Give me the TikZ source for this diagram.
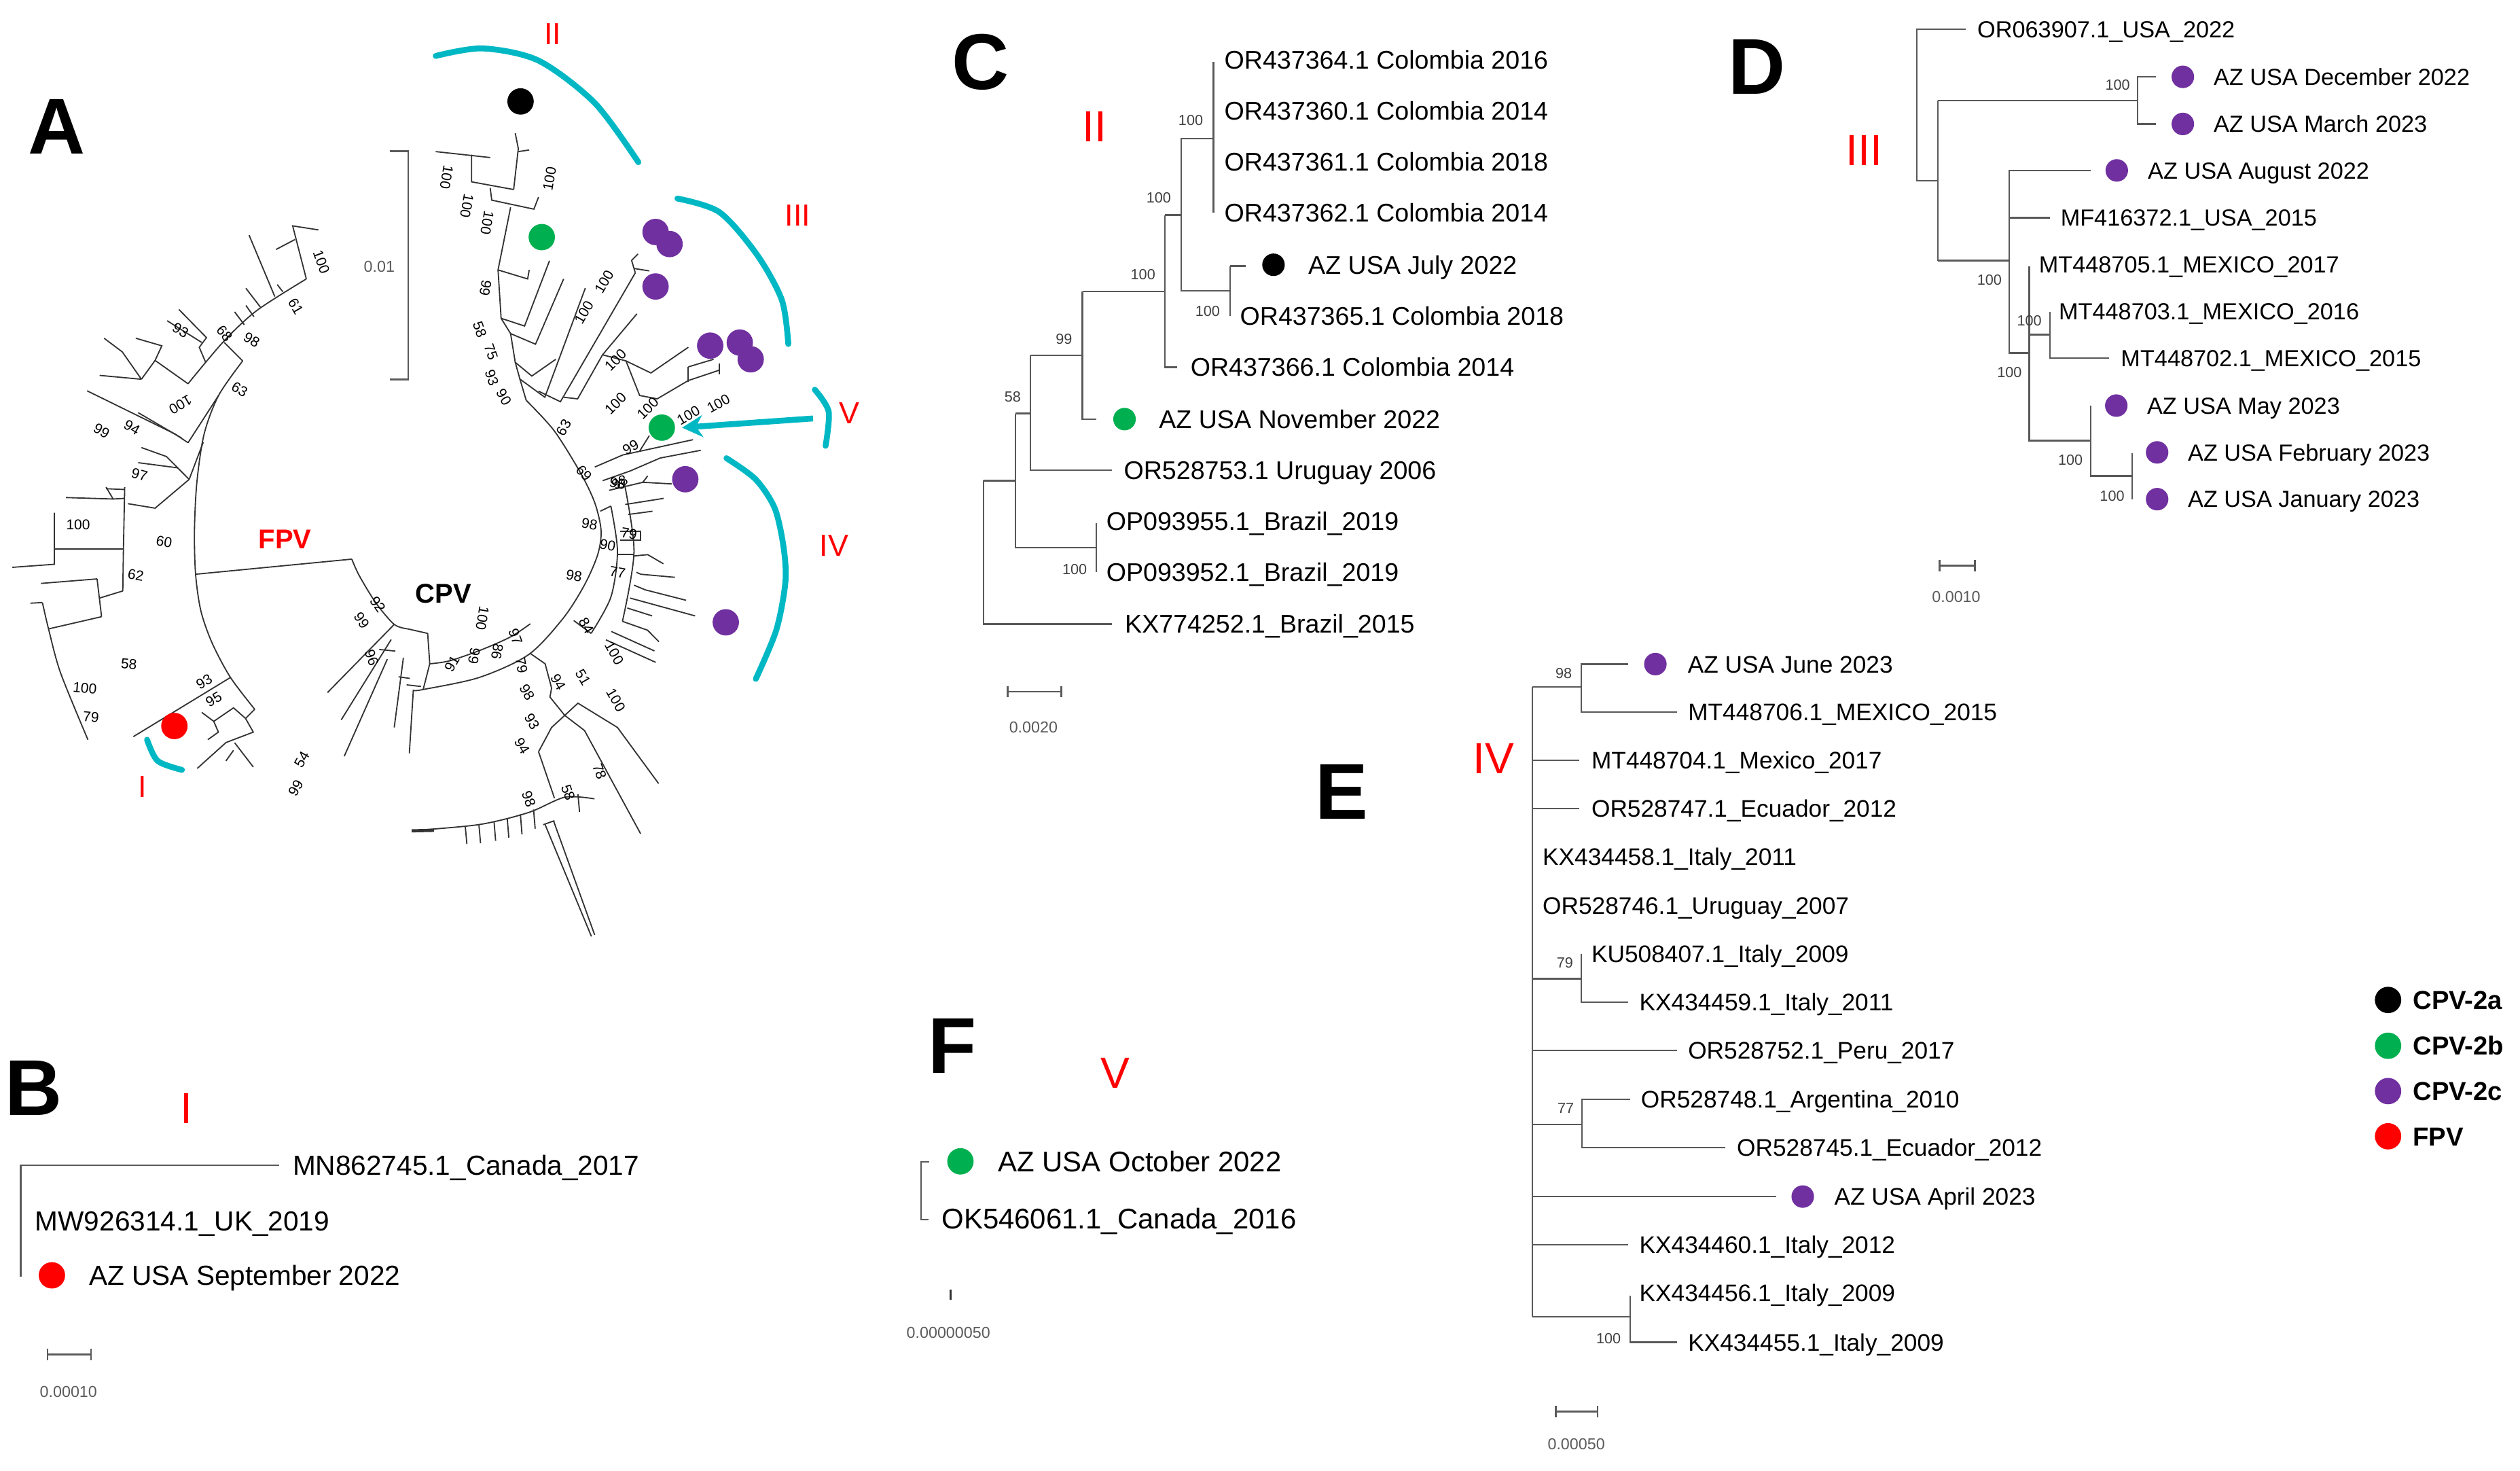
\documentclass[tikz,border=0pt]{standalone}
\usepackage{fontspec}
\setmainfont{Liberation Sans}
\usetikzlibrary{arrows.meta}

\definecolor{cpvb}{RGB}{0,176,80}
\definecolor{cpvc}{RGB}{112,48,160}
\definecolor{fpvred}{RGB}{255,0,0}
\definecolor{cladecyan}{RGB}{0,184,196}
\definecolor{scalegray}{RGB}{90,90,90}

\tikzset{
  br/.style={line width=0.55pt, black!80},
  brC/.style={line width=0.7pt, black!65},
  cladearc/.style={line width=2.6pt, cladecyan, line cap=round},
  dotS/.style={circle, inner sep=0pt, minimum size=0.35cm},
  dotL/.style={circle, inner sep=0pt, minimum size=0.41cm},
  panel/.style={inner sep=0pt, text height=25pt, text depth=0pt, font=\fontsize{35}{36}\selectfont\bfseries},
  cladenum/.style={inner sep=0pt, text height=13.8pt, text depth=0pt, text=red, font=\fontsize{19.3}{20}\selectfont},
  cladenumA/.style={inner sep=0pt, text height=9.7pt, text depth=0pt, text=red, font=\fontsize{13.5}{14}\selectfont},
  virus/.style={inner sep=0pt, text height=8.6pt, text depth=0pt, font=\fontsize{12}{13}\selectfont\bfseries},
  leafC/.style={anchor=west, inner sep=0pt, text height=8pt, text depth=0pt, font=\fontsize{11.3}{12}\selectfont},
  leafD/.style={anchor=west, inner sep=0pt, text height=7.4pt, text depth=0pt, font=\fontsize{10.3}{11}\selectfont},
  leafE/.style={anchor=west, inner sep=0pt, text height=7.6pt, text depth=0pt, font=\fontsize{10.6}{11}\selectfont},
  leafB/.style={anchor=west, inner sep=0pt, text height=8.7pt, text depth=0pt, font=\fontsize{12.2}{13}\selectfont},
  leafF/.style={anchor=west, inner sep=0pt, text height=9pt, text depth=0pt, font=\fontsize{12.6}{13}\selectfont},
  boot/.style={inner sep=0pt, text=black!75, font=\fontsize{6.5}{7}\selectfont},
  bootA/.style={inner sep=0pt, font=\fontsize{6.3}{7}\selectfont},
  scalebar/.style={line width=0.8pt, scalegray},
  scalelab/.style={inner sep=0pt, text=scalegray, font=\fontsize{7}{8}\selectfont},
  keytext/.style={anchor=west, inner sep=0pt, text height=8.2pt, text depth=0pt, font=\fontsize{11.5}{12}\selectfont\bfseries}
}

\begin{document}
\begin{tikzpicture}[x=0.025cm, y=-0.025cm]
\useasboundingbox (0,0) rectangle (1568,915);

% ---------------- panel A: circular tree ----------------
\node[panel] (labA) at (35.4,78.3) {A};

% scale bar
\draw[scalebar] (242.6,94) -- (254,94) -- (254,236) -- (242.6,236);
\node[scalelab] (scA) at (236,166) {0.01};

% FPV clade
\draw[br] plot[smooth] coordinates {(117,238.7) (139.5,212) (160,193) (190.6,173.5)};
\draw[br] (139.5,213) -- (151,224.5);
\draw[br] plot[smooth] coordinates {(151,224.5) (136,246) (127,270) (122.5,300) (121,330) (121.7,357.2) (125,380) (132,400) (143.4,421.4) (158.5,441.2)};
\draw[br] (152,202) -- (146,194);
\draw[br] (158,197) -- (153,190);
\draw[br] (162,191) -- (153,179.3);
\draw[br] (171,184.5) -- (155,146.3);
\draw[br] (176,181.5) -- (172.5,177);
\draw[br] (190.6,173.5) -- (182.1,140.5) -- (198.1,143);
\draw[br] (183.5,149) -- (171.7,155.2);
\draw[br] (128,225.5) -- (124,216) -- (128.5,210) -- (111.3,192.5);
\draw[br] (125.5,213) -- (104,199.5);
\draw[br] (117,238.7) -- (96.5,224.2);
\draw[br] (96.5,224.2) -- (100.7,215.1) -- (84.5,210.4);
\draw[br] (96.5,224.2) -- (88,235.9);
\draw[br] (88,235.9) -- (76.1,218.9) -- (64.8,210.4);
\draw[br] (88,235.9) -- (62,233.5);
\draw[br] (136,246) -- (117,275.4);
\draw[br] (117,275.4) -- (109,270) -- (54.2,243.1);
\draw[br] (113,272.5) -- (86,256.7);
\draw[br] (126.5,275) -- (117.7,298.2);
\draw[br] (117.7,298.2) -- (103.6,284) -- (88,278.4);
\draw[br] (110.5,291) -- (86,287.8);
\draw[br] (117.7,298.2) -- (96.5,316.1) -- (79.6,313.3);
\draw[br] (77.6,303) -- (76.8,341.6) -- (76.4,367.6);
\draw[br] (77.5,310) -- (70.4,310.4) -- (66,303);
\draw[br] (70.4,310.4) -- (41,309.5);
\draw[br] (77.6,304.5) -- (66,304);
\draw[br] (76.8,341.6) -- (33.8,341.6);
\draw[br] (33.8,318.9) -- (33.8,351) -- (7.7,352.9);
\draw[br] (76.4,367.6) -- (62,372);
\draw[br] (60.4,360.1) -- (63.2,383.6);
\draw[br] (60.4,360.1) -- (25.5,362.9);
\draw[br] (63.2,383.6) -- (30.2,391.2);
\draw[br] (18.9,375.2) -- (26.4,374.8);
\draw[br] plot[smooth] coordinates {(26.4,374.8) (30.2,391.2) (37.7,418.6) (54.7,460.1)};
\draw[br] (143.4,421.4) -- (83,458.2);
\draw[br] (158.5,441.2) -- (152.8,446.9) -- (145.3,440.3) -- (133,448.7) -- (125.5,443.1);
\draw[br] (133,448.7) -- (135.9,455.4) -- (129.3,460.1);
\draw[br] (152.8,446.9) -- (157.6,455.4) -- (140.6,461.9) -- (122.7,478);
\draw[br] (146,462) -- (157.6,477.1);
\draw[br] (145.3,466.7) -- (140.6,473.3);

% long branch FPV -- CPV
\draw[br] (121.7,357.2) -- (218.9,347.8);

% CPV clade, root part
\draw[br] plot[smooth] coordinates {(218.9,347.8) (223.6,358.2) (234,375.2) (245.3,388.4) (253.8,391.2)} -- (266.1,394);
\draw[br] (266.1,394) -- (267.4,412.9) -- (263.3,428.9);
\draw[br] (245.3,388.4) -- (203.8,430.8);
\draw[br] (243.4,397.8) -- (212.3,447.8);
\draw[br] (241,410) -- (214.2,470.4);
\draw[br] (236,404) -- (246,405);
\draw[br] (251,409.1) -- (245.3,452.5);
\draw[br] (248,421) -- (255,422);
\draw[br] (257.2,428.9) -- (254.7,468.6);
\draw[br] plot[smooth] coordinates {(267.4,412.9) (280,411) (300,404) (318,396) (330,388)};
\draw[br] (253,426) -- (262,427);

% CPV main arc
\draw[br] plot[smooth] coordinates {(257.2,429.5) (263.3,428.9) (298.2,421.4) (328.9,407.2) (350.4,384.6) (363.7,363.8) (371.9,345) (374,330) (370.1,312.8) (361.3,294.3) (344.8,267.9) (327.4,249)};

% lower CPV branches
\draw[br] (330,406.5) -- (339.2,412.9) -- (343.2,428) -- (342.2,433.6) -- (351.4,445) -- (343.2,452.5) -- (335.1,467.6);
\draw[br] (351.4,445) -- (359.6,437.4) -- (384.2,452.5) -- (409.8,487.4);
\draw[br] (351.4,445) -- (363.7,454.4) -- (398.6,518.6);
\draw[br] (335.1,467.6) -- (345,496.5);
\draw[br] plot[smooth] coordinates {(256.2,516.7) (298.2,512.9) (328.9,505.4) (351.4,495.9) (369.9,496.9)};
\draw[line width=1.4pt, black!80] (256.2,516.8) -- (270,516.5);
\foreach \x/\ya/\yb in {289.5/514/525, 298/513/524.5, 307.4/511/523, 315.6/509/521, 323.8/506.5/519, 332/503.5/515.5, 359.6/494/505}
  \draw[br] (\x,\ya) -- (\x+1,\yb);
\draw[br] (338,513) -- (345,510.5);
\draw[br] (339,512.5) -- (368,582.5);
\draw[br] (344.5,510.8) -- (370,581.5);

% right side arcs and clade IV
\draw[br] plot[smooth] coordinates {(380.1,314.8) (384.2,343) (380.1,371.4) (367.8,394)};
\draw[br] (367.8,394) -- (357,386);
\draw[br] (373.5,318) -- (380.1,314.8);
\draw[br] plot[smooth] coordinates {(388.3,299.7) (394.5,343) (387.3,386.5)};
\draw[br] (383.8,345) -- (394.5,345);
\draw[br] (393.8,345.9) -- (403,345) -- (412.8,350.7);
\draw[br] (396,356) -- (398.7,357.2) -- (419.9,359.1);
\draw[br] (394.5,364) -- (401.5,366.9) -- (426.9,373.4);
\draw[br] (392,372) -- (432.5,383.1);
\draw[br] (390.3,378.2) -- (405.8,383.1);
\draw[br] (387.3,386.5) -- (402.9,392) -- (410,399.2);
\draw[br] (380.4,392.8) -- (407.2,404.9);
\draw[br] (377,398) -- (408,412);
\draw[br] (389,313.8) -- (412.9,310);
\draw[br] (391,320) -- (406,318);
\draw[br] (386,330.5) -- (398.5,330.5) -- (398.5,336) -- (386,336);

% clade V and neighbours
\draw[br] (370.1,290.5) -- (387.5,283) -- (431.2,273.5);
\draw[br] (398,280.6) -- (404,271);
\draw[br] (375,299) -- (392,293) -- (410.8,284.9) -- (436,280.1);
\draw[br] (379,305) -- (400,300) -- (418,301);
\draw[br] (400,300) -- (403,296);

% clades II and III
\draw[br] (271.1,94.3) -- (305,98);
\draw[br] (293.4,96.2) -- (293.4,113.1) -- (319.6,117.9);
\draw[br] (319.6,117.9) -- (322.5,92.4) -- (320.6,82.9);
\draw[br] (322.5,94.3) -- (329.3,93.3);
\draw[br] (305,116.9) -- (306,124.5) -- (332.2,130.1) -- (335.1,122.6);
\draw[br] (317.7,129) -- (309.9,167.9) -- (328.3,173.5) -- (329.3,167.9);
\draw[br] (309.9,167.9) -- (311.8,198) -- (326.4,202.8) -- (341.9,162.2);
\draw[br] (311.8,198) -- (317.7,207.5) -- (333.2,214.1) -- (350.7,173.5);
\draw[br] (317.7,207.5) -- (320.6,225.4) -- (330.9,233.9) -- (345.8,223.5);
\draw[br] (320.6,225.4) -- (323.5,235.8) -- (339,247.1) -- (364.2,179.2);
\draw[br] (323.5,235.8) -- (327.4,249);
\draw[br] (335.1,243.3) -- (348.7,249.9) -- (395.3,169.7);
\draw[br] (350.7,247.1) -- (359.4,248.1) -- (374.9,220.7) -- (396.3,195.2);
\draw[br] (395.3,169.7) -- (393,162) -- (397,158);
\draw[br] (394.5,167) -- (404,168.5);
\draw[br] (374.9,220.7) -- (389.5,224.5) -- (405,232) -- (428.3,216);
\draw[br] (389.5,224.5) -- (398,246) -- (408.9,248.1) -- (428.3,236.7) -- (447.7,230.2);
\draw[br] (428.3,228.2) -- (428.3,237.6);
\draw[br] (428.3,228.2) -- (444,223.5);
\draw[br] (447.7,226) -- (447.7,233);

% bootstrap values of tree A
\foreach \x/\y/\r/\t [count=\i] in {
  200/163/-70/100, 184/190.5/-60/61, 156.6/211.3/-30/98, 139.6/207.5/-50/68,
  112.3/205.6/-30/93, 149.1/242.4/-30/63, 112.3/251.8/-150/100, 82.1/266/-30/94,
  63.2/267.9/-30/99, 86.8/295.2/-15/97, 48.6/326.5/0/100, 102.1/336.9/-10/60,
  84.5/357.6/-10/62, 80.2/412.9/-5/58, 52.8/428/-5/100, 56.6/445.9/-5/79,
  127/424/30/93, 133/435/30/95, 187.8/472.3/60/54, 184/490.3/60/99,
  225/386/-55/99, 235/376/-55/92, 231.2/409.1/-70/96, 281.2/412.9/60/91,
  300.2/384.6/-100/100, 295/408/-100/99, 309.4/405.3/-100/86, 320.7/396/-70/97,
  324.5/414/-80/79, 327.9/430.8/-60/98, 331/448.7/-60/93, 324.8/464/-60/94,
  329/496.9/-70/98, 353.5/493/-70/58, 373/479.9/-70/78, 347.3/424.2/-60/94,
  362.7/421.4/-60/51, 383.2/435.5/-60/100, 382.2/406.3/-60/100, 364.8/389.3/-60/84,
  357.2/358.2/-10/98, 384.2/355.9/-10/77, 366.8/326.1/-10/98, 378.1/339.3/-10/90,
  391.4/331.8/-10/79, 384.2/300.6/-10/98,
  277.9/110.3/-100/100, 290.5/128.2/-100/100, 303.1/138.6/-100/100, 341.9/111.3/80/100,
  302.1/179.2/-100/99, 298.5/205/-70/58, 305.5/219/-70/75, 306/235/-70/93,
  313.5/247/-60/90, 363.3/194.3/60/100, 375.9/175.4/60/100, 383/224/45/100,
  383/251/45/100, 350.7/266/60/63, 403/254/45/100, 428.3/258.4/30/100,
  447/251/30/100, 392.4/278.3/30/99, 363.3/294.3/-50/69, 385.6/300/30/98}
  \node[bootA, rotate=\r] (ba\i) at (\x,\y) {\t};

% clade arcs
\draw[cladearc] plot[smooth] coordinates {(271.1,34.8) (300.2,30.1) (335.1,37.7) (370.1,64.1) (397.2,100.9)};
\draw[cladearc] plot[smooth] coordinates {(421.5,123.5) (447.7,132) (471,158.4) (486.5,186.7) (490.5,214)};
\draw[cladearc] plot[smooth] coordinates {(507,242.4) (515.6,256) (513.7,277.3)};
\draw[cladearc] plot[smooth] coordinates {(452,285) (470,298) (482,316) (487.5,340) (488.7,362) (483,392) (470.3,422.3)};
\draw[cladearc] plot[smooth] coordinates {(91.5,460.1) (98.1,473.3) (113.2,478.9)};
\coordinate (arrV) at (505.9,260.3);
\coordinate (tipV) at (424.4,266);
\draw[line width=2.6pt, cladecyan, -{Stealth[length=0.32cm, width=0.34cm]}] (arrV) -- (tipV);

% isolates in tree A
\node[dotL, fill=black] (aa) at (323.9,63.1) {};
\node[dotL, fill=cpvb] (ab1) at (337.1,147.5) {};
\node[dotL, fill=cpvb] (ab2) at (411.8,266) {};
\foreach \x/\y [count=\i] in {407.9/144.3, 416.6/151.8, 407.9/178.2, 441.9/215, 460.3/213.1, 467.1/223.5, 426.4/298.1, 451.6/387.1}
  \node[dotL, fill=cpvc] (ac\i) at (\x,\y) {};
\node[dotL, fill=fpvred] (af) at (108.5,451.6) {};

% labels in tree A
\node[cladenumA] (aII) at (344,21) {II};
\node[cladenumA] (aIII) at (496.3,133.9) {III};
\node[cladenumA] (aV) at (528.3,256.5) {V};
\node[cladenumA] (aIV) at (519,338.9) {IV};
\node[cladenumA] (aI) at (88.7,489.3) {I};
\node[virus, text=fpvred] (fpv) at (177.3,335.4) {FPV};
\node[virus] (cpv) at (276,369) {CPV};

% ---------------- panel B ----------------
\node[panel] (labB) at (20.9,676) {B};
\node[cladenum] (numB) at (115.9,689) {I};
\draw[brC] (173.8,724.9) -- (12.9,724.9) -- (12.9,794.1);
\node[leafB] (b1) at (181.9,724.9) {MN862745.1\_Canada\_2017};
\node[leafB] (b2) at (21.6,759.3) {MW926314.1\_UK\_2019};
\node[leafB] (b3) at (55.2,793.3) {AZ USA September 2022};
\node[dotL, fill=fpvred] (bd3) at (32.3,793.3) {};
\draw[scalebar] (29.6,842.6) -- (56.6,842.6) (29.6,839) -- (29.6,846.2) (56.6,839) -- (56.6,846.2);
\node[scalelab] (scB) at (42.6,865.6) {0.00010};

% ---------------- panel C ----------------
\node[panel] (labC) at (610,38) {C};
\node[cladenum] (numC) at (681,78.6) {II};
\draw[brC] (755.1,38.6) -- (755.1,132.4);
\draw[brC] (755.1,86.2) -- (735,86.2) -- (735,180.8) -- (765.3,180.8);
\draw[brC] (765.3,165.5) -- (765.3,196.4);
\draw[brC] (765.3,165.5) -- (775,165.5);
\draw[brC] (724.7,133.8) -- (735,133.8);
\draw[brC] (724.7,133.8) -- (724.7,228.4) -- (732.5,228.4);
\draw[brC] (673.5,181.4) -- (724.7,181.4);
\draw[brC] (673.5,181.4) -- (673.5,260.7) -- (682.3,260.7);
\draw[brC] (641,220.9) -- (673.5,220.9);
\draw[brC] (641,220.9) -- (641,292.4) -- (691.7,292.4);
\draw[brC] (631.8,257.2) -- (641,257.2);
\draw[brC] (631.8,257.2) -- (631.8,340.6) -- (682,340.6);
\draw[brC] (682,325.6) -- (682,355.9);
\draw[brC] (611.9,299) -- (631.8,299);
\draw[brC] (611.9,299) -- (611.9,388.2) -- (691.7,388.2);
\node[leafC] (c1) at (761.6,37.2) {OR437364.1 Colombia 2016};
\node[leafC] (c2) at (761.6,68.9) {OR437360.1 Colombia 2014};
\node[leafC] (c3) at (761.6,100.6) {OR437361.1 Colombia 2018};
\node[leafC] (c4) at (761.6,132.4) {OR437362.1 Colombia 2014};
\node[leafC] (c5) at (813.8,164.7) {AZ USA July 2022};
\node[leafC] (c6) at (771.3,196.4) {OR437365.1 Colombia 2018};
\node[leafC] (c7) at (740.5,228.4) {OR437366.1 Colombia 2014};
\node[leafC] (c8) at (720.9,260.7) {AZ USA November 2022};
\node[leafC] (c9) at (699,292.4) {OR528753.1 Uruguay 2006};
\node[leafC] (c10) at (688.1,324.2) {OP093955.1\_Brazil\_2019};
\node[leafC] (c11) at (688.1,355.9) {OP093952.1\_Brazil\_2019};
\node[leafC] (c12) at (699.7,388.2) {KX774252.1\_Brazil\_2015};
\node[dotS, fill=black] (cd5) at (792.4,164.7) {};
\node[dotS, fill=cpvb] (cd8) at (699.7,260.7) {};
\foreach \x/\y/\t [count=\i] in {740.9/74.7/100, 721/123.1/100, 711.2/170.7/100, 751.4/193.8/100, 662/211/99, 630.1/246.9/58, 668.7/354.4/100}
  \node[boot] (cb\i) at (\x,\y) {\t};
\draw[scalebar] (627,430.3) -- (660.4,430.3) (627,426.8) -- (627,433.8) (660.4,426.8) -- (660.4,433.8);
\node[scalelab] (scC) at (643,452.5) {0.0020};

% ---------------- panel D ----------------
\node[panel] (labD) at (1093,41) {D};
\node[cladenum] (numD) at (1160,93) {III};
\draw[brC] (1223.1,18.2) -- (1192.8,18.2) -- (1192.8,112.3) -- (1205.8,112.3);
\draw[brC] (1205.8,62.6) -- (1205.8,162.1);
\draw[brC] (1205.8,62.6) -- (1330,62.6);
\draw[brC] (1341.6,47.8) -- (1330,47.8) -- (1330,77.1) -- (1341.6,77.1);
\draw[brC] (1205.8,162.1) -- (1250.3,162.1);
\draw[brC] (1300.8,106) -- (1250.3,106) -- (1250.3,219.6) -- (1262.7,219.6);
\draw[brC] (1250.3,135.4) -- (1275.4,135.4);
\draw[brC] (1262.7,165.5) -- (1262.7,274.1) -- (1300.8,274.1);
\draw[brC] (1262.7,208.2) -- (1275.4,208.2);
\draw[brC] (1275.4,194.1) -- (1275.4,222.7) -- (1312.4,222.7);
\draw[brC] (1300.8,252.3) -- (1300.8,296) -- (1326.6,296);
\draw[brC] (1326.6,281.9) -- (1326.6,310.5);
\node[leafD] (d1) at (1230.1,18.2) {OR063907.1\_USA\_2022};
\node[leafD] (d2) at (1377.1,47.8) {AZ USA December 2022};
\node[leafD] (d3) at (1377.1,77.1) {AZ USA March 2023};
\node[leafD] (d4) at (1336.2,106) {AZ USA August 2022};
\node[leafD] (d5) at (1281.9,135.4) {MF416372.1\_USA\_2015};
\node[leafD] (d6) at (1268.4,164.5) {MT448705.1\_MEXICO\_2017};
\node[leafD] (d7) at (1280.8,193.6) {MT448703.1\_MEXICO\_2016};
\node[leafD] (d8) at (1319.4,222.7) {MT448702.1\_MEXICO\_2015};
\node[leafD] (d9) at (1335.7,252.3) {AZ USA May 2023};
\node[leafD] (d10) at (1361.1,281.4) {AZ USA February 2023};
\node[leafD] (d11) at (1361.1,310.5) {AZ USA January 2023};
\foreach \x/\y [count=\i] in {1358.2/47.8, 1358.2/77.1, 1317.1/106, 1316.8/252.3, 1342.2/281.4, 1342.2/310.5}
  \node[dotS, fill=cpvc] (dd\i) at (\x,\y) {};
\foreach \x/\y [count=\i] in {1317.6/52.9, 1237.9/174.2, 1262.7/199.4, 1250.3/231.7, 1288.3/286.3, 1314.2/308.6}
  \node[boot] (db\i) at (\x,\y) {100};
\draw[scalebar] (1206.8,351.8) -- (1228.8,351.8) (1206.8,348.3) -- (1206.8,355.3) (1228.8,348.3) -- (1228.8,355.3);
\node[scalelab] (scD) at (1217.2,371.2) {0.0010};

% ---------------- panel E ----------------
\node[panel] (labE) at (835,492) {E};
\node[cladenum] (numE) at (929.3,471.3) {IV};
\draw[brC] (953.6,427.4) -- (953.6,819.2);
\draw[brC] (953.6,427.4) -- (983.9,427.4);
\draw[brC] (1013,413.1) -- (983.9,413.1) -- (983.9,443) -- (1043.3,443);
\draw[brC] (953.6,473) -- (982.7,473);
\draw[brC] (953.6,503) -- (982.7,503);
\draw[brC] (953.6,608.8) -- (983.9,608.8);
\draw[brC] (983.9,593.5) -- (983.9,623.5) -- (1013,623.5);
\draw[brC] (953.6,653.4) -- (1043.3,653.4);
\draw[brC] (953.6,699.4) -- (984.4,699.4);
\draw[brC] (1014.2,683.7) -- (984.4,683.7) -- (984.4,713.7) -- (1073.7,713.7);
\draw[brC] (953.6,744.3) -- (1105.2,744.3);
\draw[brC] (953.6,774.3) -- (1013,774.3);
\draw[brC] (953.6,819.2) -- (1014.2,819.2);
\draw[brC] (1014.2,805.9) -- (1014.2,834.9) -- (1043.3,834.9);
\node[leafE] (e1) at (1049.9,413.1) {AZ USA June 2023};
\node[leafE] (e2) at (1050.1,443) {MT448706.1\_MEXICO\_2015};
\node[leafE] (e3) at (990,473) {MT448704.1\_Mexico\_2017};
\node[leafE] (e4) at (990,503) {OR528747.1\_Ecuador\_2012};
\node[leafE] (e5) at (959.6,532.9) {KX434458.1\_Italy\_2011};
\node[leafE] (e6) at (959.6,563.5) {OR528746.1\_Uruguay\_2007};
\node[leafE] (e7) at (990,593.5) {KU508407.1\_Italy\_2009};
\node[leafE] (e8) at (1019.8,623.5) {KX434459.1\_Italy\_2011};
\node[leafE] (e9) at (1050.1,653.4) {OR528752.1\_Peru\_2017};
\node[leafE] (e10) at (1020.8,683.7) {OR528748.1\_Argentina\_2010};
\node[leafE] (e11) at (1080.5,713.7) {OR528745.1\_Ecuador\_2012};
\node[leafE] (e12) at (1141.1,744.3) {AZ USA April 2023};
\node[leafE] (e13) at (1019.8,774.3) {KX434460.1\_Italy\_2012};
\node[leafE] (e14) at (1019.8,804.2) {KX434456.1\_Italy\_2009};
\node[leafE] (e15) at (1050.1,834.9) {KX434455.1\_Italy\_2009};
\node[dotS, fill=cpvc] (ed1) at (1030,413.1) {};
\node[dotS, fill=cpvc] (ed12) at (1121.7,744.3) {};
\foreach \x/\y/\t [count=\i] in {973/418.7/98, 973.7/598.8/79, 974.2/689.4/77, 1000.9/832.5/100}
  \node[boot] (eb\i) at (\x,\y) {\t};
\draw[scalebar] (968.1,878.1) -- (994.1,878.1) (968.1,874.6) -- (968.1,881.6) (994.1,874.6) -- (994.1,881.6);
\node[scalelab] (scE) at (980.8,898.4) {0.00050};

% ---------------- panel F ----------------
\node[panel] (labF) at (592.4,649.8) {F};
\node[cladenum] (numF) at (693.9,667) {V};
\draw[brC] (578.2,722.7) -- (573.1,722.7) -- (573.1,758.7) -- (577.8,758.7);
\node[leafF] (f1) at (620.8,722.4) {AZ USA October 2022};
\node[leafF] (f2) at (585.7,758) {OK546061.1\_Canada\_2016};
\node[dotL, fill=cpvb] (fd1) at (597.6,722.4) {};
\draw[line width=1pt, black!80] (591.4,802.3) -- (591.4,808.7);
\node[scalelab] (scF) at (590.1,829.1) {0.00000050};

% ---------------- legend ----------------
\foreach \y/\c/\t [count=\i] in {622/black/CPV-2a, 650.5/cpvb/CPV-2b, 678.7/cpvc/CPV-2c, 706.8/fpvred/FPV} {
  \node[dotL, fill=\c] (key\i) at (1485.9,\y) {};
  \node[keytext] (keylab\i) at (1501.1,\y) {\t};
}
\end{tikzpicture}
\end{document}
